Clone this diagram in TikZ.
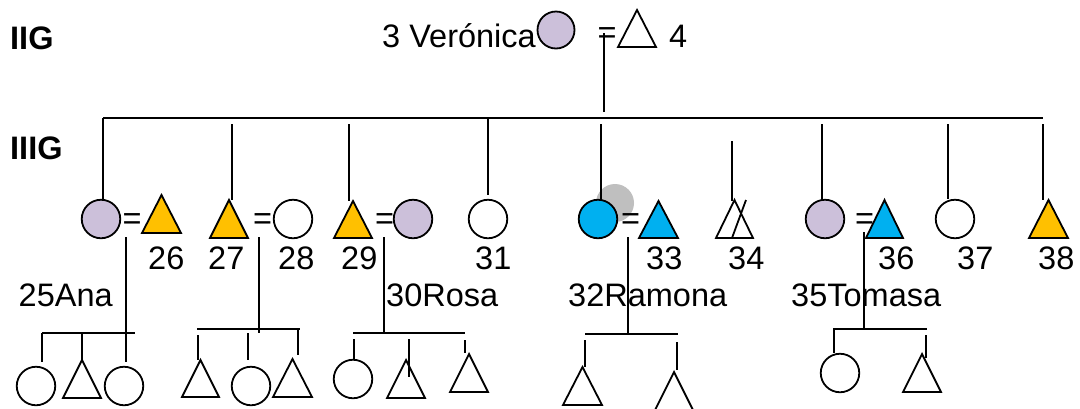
\documentclass[tikz,border=0pt]{standalone}
\usepackage{fontspec}
\setmainfont{Liberation Sans}

\definecolor{lilac}{HTML}{CCC0DA}
\definecolor{amber}{HTML}{FFC000}
\definecolor{sky}{HTML}{00B0F0}
\definecolor{shade}{HTML}{BFBFBF}

\tikzset{
  ln/.style={line width=1.9pt},
  person/.style={circle, draw, line width=1.8pt, inner sep=0pt, minimum size=38.5pt},
  trislot/.style={inner sep=0pt, outer sep=0pt},
  tri/.style={line width=1.8pt},
  txt/.style={inner sep=0pt, anchor=base west, font=\fontsize{32.5}{39}\selectfont},
  gen/.style={inner sep=0pt, anchor=base west, font=\fontsize{32.5}{39}\selectfont\bfseries},
  eqs/.style={inner sep=0pt, font=\fontsize{32.5}{39}\selectfont},
}

% male symbol: name, left x, right x, apex y, base y, fill
\newcommand\trishape[6]{%
  \node[trislot, minimum width={#3-#2}, minimum height={#5-#4}] (#1) at ({(#2+#3)/2},{(#4+#5)/2}) {};
  \draw[tri, fill=#6] (#1.south west) -- (#1.north) -- (#1.south east) -- cycle;}

\begin{document}
\begin{tikzpicture}[x=1pt,y=-1pt]
\useasboundingbox (0,0) rectangle (1080,408);
\fill[white] (0,0) rectangle (1080,408);

% generation labels
\node[gen] (g2) at (10,49) {IIG};
\node[gen] (g3) at (10,159) {IIIG};

% founding couple
\node[txt] (n3) at (382,47) {3 Verónica};
\node[person, fill=lilac, minimum size=37pt] (p3) at (556,30) {};
\node[eqs] (e34) at (607,36) {=};
\trishape{p4}{618}{656}{10}{47}{white}
\node[txt] (n4) at (669,47) {4};
\coordinate (m34) at (604,33);
\coordinate (m34b) at (604,112);
\draw[ln] (m34) -- (m34b);
\coordinate (sibL) at (103,118);
\coordinate (sibR) at (1043,118);
\draw[ln] (sibL) -- (sibR);

% highlight behind 32
\node[circle, fill=shade, inner sep=0pt, minimum size=38pt] (halo) at (615,203) {};

% third generation
\node[person, fill=lilac] (p25) at (101,219) {};
\node[eqs] (e2526) at (132,221.5) {=};
\trishape{p26}{142}{181}{195}{233}{amber}
\trishape{p27}{210}{248}{200}{238}{amber}
\node[eqs] (e2728) at (262.5,221.5) {=};
\node[person, fill=white] (p28) at (293,219) {};
\trishape{p29}{334}{372}{201}{238}{amber}
\node[eqs] (e2930) at (384.5,221.5) {=};
\node[person, fill=lilac] (p30) at (413,219) {};
\node[person, fill=white] (p31) at (488,219) {};
\node[person, fill=sky] (p32) at (598,219) {};
\node[eqs] (e3233) at (630.5,221.5) {=};
\trishape{p33}{639}{678}{201}{238}{sky}
\trishape{p34}{716}{753}{200}{238}{none}
\coordinate (x34a) at (732,238);
\coordinate (x34b) at (746,200);
\draw[tri] (x34a) -- (x34b);
\node[person, fill=lilac] (p35) at (825,219) {};
\node[eqs] (e3536) at (864.5,221.5) {=};
\trishape{p36}{866}{903}{200}{238}{sky}
\node[person, fill=white] (p37) at (955,219) {};
\trishape{p38}{1029}{1068}{200}{238}{amber}

% drops from the sibship line
\coordinate (d27) at (232,124);
\coordinate (d29) at (349,124);
\coordinate (d31) at (488,118);
\coordinate (d31e) at (488,195);
\coordinate (d32) at (601,124);
\coordinate (d34) at (732,141);
\coordinate (d34e) at (732,201);
\coordinate (d35) at (822,124);
\coordinate (d37) at (948,124);
\coordinate (d38) at (1043,124);
\draw[ln] (sibL) -- (sibL |- p25.north);
\draw[ln] (d27) -- (d27 |- p27.north);
\draw[ln] (d29) -- (d29 |- p29.north);
\draw[ln] (d31) -- (d31e);
\draw[ln] (d32) -- (d32 |- p32.north);
\draw[ln] (d34) -- (d34e);
\draw[ln] (d35) -- (d35 |- p35.north);
\draw[ln] (d37) -- (d37 |- p37.north);
\draw[ln] (d38) -- (d38 |- p38.north);

% numbers
\node[txt] (l26) at (148,269) {26};
\node[txt] (l27) at (208,269) {27};
\node[txt] (l28) at (278,269) {28};
\node[txt] (l29) at (341,269) {29};
\node[txt] (l31) at (475,269) {31};
\node[txt] (l33) at (646,269) {33};
\node[txt] (l34) at (728,269) {34};
\node[txt] (l36) at (878,269) {36};
\node[txt] (l37) at (957,269) {37};
\node[txt] (l38) at (1038,269) {38};

% names
\node[txt] (l25) at (18.5,306) {25Ana};
\node[txt] (l30) at (386,306) {30Rosa};
\node[txt] (l32) at (568,306) {32Ramona};
\node[txt] (l35) at (791,306) {35Tomasa};

% family of 25 and 26
\node[person] (kA1) at (36,386) {};
\trishape{kA2}{63}{101}{360}{398}{none}
\node[person] (kA3) at (124,386) {};
\coordinate (fA) at (126,237);
\coordinate (fAk) at (126,362);
\coordinate (hA1) at (42,333);
\coordinate (hA2) at (135,333);
\coordinate (hA1e) at (42,362);
\coordinate (hAm) at (82,333);
\draw[ln] (fA) -- (fAk);
\draw[ln] (hA1) -- (hA2);
\draw[ln] (hA1) -- (hA1e);
\draw[ln] (hAm) -- (hAm |- kA2.north);

% family of 27 and 28
\trishape{kB1}{182}{219}{360}{397}{none}
\node[person] (kB2) at (251,386) {};
\trishape{kB3}{273}{312}{359}{397}{none}
\coordinate (fB) at (259,237);
\coordinate (fBk) at (259,333);
\coordinate (hB1) at (197,329);
\coordinate (hB2) at (300,329);
\coordinate (dB1) at (198,335);
\coordinate (dB2) at (248,333);
\coordinate (dB2e) at (248,360);
\coordinate (dB3) at (298,329);
\coordinate (dB3e) at (298,355);
\draw[ln] (fB) -- (fBk);
\draw[ln] (hB1) -- (hB2);
\draw[ln] (dB1) -- (dB1 |- kB1.north);
\draw[ln] (dB2) -- (dB2e);
\draw[ln] (dB3) -- (dB3e);

% family of 29 and 30
\node[person] (kC1) at (353,379) {};
\trishape{kC2}{387}{425}{360}{398}{none}
\trishape{kC3}{450}{488}{354}{392}{none}
\coordinate (fC) at (384,237);
\coordinate (fCk) at (384,333);
\coordinate (hC1) at (353,333);
\coordinate (hC2) at (465,333);
\coordinate (dC1) at (354,339);
\coordinate (dC2) at (409,339);
\coordinate (dC2e) at (409,377);
\coordinate (dC3) at (465,340);
\coordinate (dC3e) at (465,353);
\draw[ln] (fC) -- (fCk);
\draw[ln] (hC1) -- (hC2);
\draw[ln] (dC1) -- (dC1 |- kC1.north);
\draw[ln] (dC2) -- (dC2e);
\draw[ln] (dC3) -- (dC3e);

% family of 32 and 33
\trishape{kD1}{563}{602}{367}{405}{none}
\trishape{kD2}{655}{693}{372}{410}{none}
\coordinate (fD) at (628,237);
\coordinate (fDk) at (628,334);
\coordinate (hD1) at (585,334);
\coordinate (hD2) at (678,334);
\coordinate (dD1) at (585,340);
\coordinate (dD2) at (677,342);
\coordinate (dD2e) at (677,370);
\draw[ln] (fD) -- (fDk);
\draw[ln] (hD1) -- (hD2);
\draw[ln] (dD1) -- (dD1 |- kD1.north);
\draw[ln] (dD2) -- (dD2e);

% family of 35 and 36
\node[person] (kE1) at (840,373) {};
\trishape{kE2}{903}{941}{354}{392}{none}
\coordinate (fE) at (864,232);
\coordinate (fEk) at (864,329);
\coordinate (hE1) at (833,329);
\coordinate (hE2) at (927,329);
\coordinate (dE1) at (834,329);
\coordinate (dE2) at (926,335);
\coordinate (dE2e) at (926,358);
\draw[ln] (fE) -- (fEk);
\draw[ln] (hE1) -- (hE2);
\draw[ln] (dE1) -- (dE1 |- kE1.north);
\draw[ln] (dE2) -- (dE2e);
\end{tikzpicture}
\end{document}
